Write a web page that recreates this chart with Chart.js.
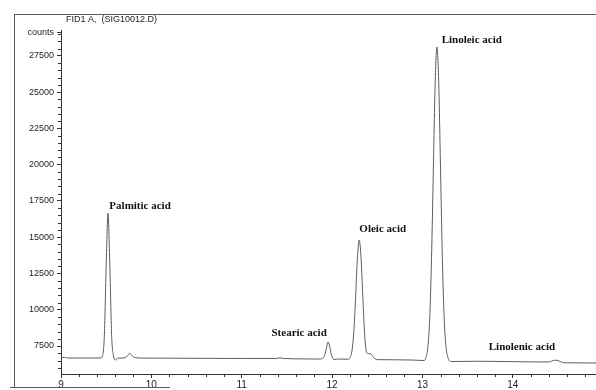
<!DOCTYPE html>
<html>
<head>
<meta charset="utf-8">
<script src="https://cdn.jsdelivr.net/npm/chart.js@4.4.1/dist/chart.umd.min.js"></script>
<style>
  html, body { margin: 0; padding: 0; background: #fff; }
  #wrap { width: 596px; height: 390px; position: relative; }
</style>
</head>
<body>
<div id="wrap"><canvas id="chrom" width="596" height="390"></canvas></div>
<script>
// retention time (min) and detector counts
const times = [
  9.00, 9.04, 9.08, 9.20, 9.35, 9.44, 9.46, 9.48, 9.50, 9.52, 9.54, 9.56, 9.58, 9.60, 9.63,
  9.70, 9.74, 9.76, 9.78, 9.82, 9.90, 10.2, 10.6, 11.0, 11.38, 11.42, 11.46, 11.7, 11.86,
  11.90, 11.92, 11.94, 11.955, 11.97, 11.99, 12.01, 12.03, 12.06, 12.18,
  12.20, 12.22, 12.24, 12.26, 12.28, 12.30, 12.32, 12.34, 12.36, 12.38, 12.40, 12.43, 12.46, 12.50,
  12.70, 12.90, 13.02, 13.04, 13.06, 13.08, 13.10, 13.12, 13.14, 13.16, 13.18, 13.20, 13.22, 13.24,
  13.26, 13.28, 13.30, 13.32, 13.60, 14.00, 14.30, 14.40, 14.46, 14.50, 14.55, 14.60, 14.92
];
const counts = [
  6680, 6720, 6670, 6670, 6670, 6680, 6840, 8270, 13070, 16670, 13070, 8270, 6840, 6540, 6660,
  6680, 6850, 7000, 6850, 6700, 6670, 6660, 6650, 6640, 6640, 6690, 6640, 6610, 6600,
  6680, 6900, 7450, 7780, 7550, 6950, 6620, 6570, 6600, 6590,
  6730, 7190, 8480, 10860, 13580, 14810, 13580, 10860, 8300, 7100, 6980, 6950, 6700, 6560,
  6550, 6530, 6500, 6740, 7450, 9420, 13530, 19620, 25570, 28120, 25570, 19620, 13530, 9420,
  7450, 6740, 6470, 6430, 6450, 6420, 6400, 6400, 6520, 6500, 6360, 6340, 6330
];

const yTicks = [7500, 10000, 12500, 15000, 17500, 20000, 22500, 25000, 27500];
const xTicks = [9, 10, 11, 12, 13, 14];
const countsTick = 29090;   // where the "counts" unit label sits on the axis

// peak names with anchor (time, counts) for the text
const peakNames = ['Palmitic acid', 'Stearic acid', 'Oleic acid', 'Linoleic acid', 'Linolenic acid'];
const peakLabelAt = [[9.875, 17150], [11.635, 8400], [12.56, 15570], [13.545, 28600], [14.10, 7430]];

const points = times.map((t, i) => ({ x: t, y: counts[i] }));

const decor = {
  id: 'decor',
  afterDraw(chart) {
    const ctx = chart.ctx;
    const xs = chart.scales.x, ys = chart.scales.y;
    const area = chart.chartArea;
    ctx.save();

    // scanned page frame
    ctx.strokeStyle = '#5a5a5a';
    ctx.lineWidth = 1;
    ctx.beginPath();
    ctx.moveTo(14, 14.5); ctx.lineTo(596, 14.5);
    ctx.moveTo(14.5, 14); ctx.lineTo(14.5, 388);
    ctx.moveTo(10, 387.5); ctx.lineTo(170, 387.5);
    ctx.stroke();

    // title
    ctx.fillStyle = '#222';
    ctx.font = '9px "Liberation Sans", Arial, sans-serif';
    ctx.textAlign = 'left';
    ctx.textBaseline = 'middle';
    ctx.fillText('FID1 A,  (SIG10012.D)', 66, 20);

    // minor ticks
    ctx.strokeStyle = '#333';
    ctx.beginPath();
    for (let v = 6000; v <= 29000; v += 500) {
      if (v % 2500 === 0) continue;
      const py = Math.round(ys.getPixelForValue(v)) + 0.5;
      ctx.moveTo(area.left - 3, py); ctx.lineTo(area.left, py);
    }
    for (let k = 45; k <= 74; k++) {
      if (k % 5 === 0) continue;
      const px = Math.round(xs.getPixelForValue(k / 5)) + 0.5;
      ctx.moveTo(px, area.bottom); ctx.lineTo(px, area.bottom + 3);
    }
    ctx.stroke();

    // peak labels
    ctx.fillStyle = '#111';
    ctx.font = 'bold 11px "Liberation Serif", "Times New Roman", serif';
    ctx.textAlign = 'center';
    peakNames.forEach((name, i) => {
      const [t, c] = peakLabelAt[i];
      ctx.fillText(name, xs.getPixelForValue(t), ys.getPixelForValue(c));
    });
    ctx.restore();
  }
};

new Chart(document.getElementById('chrom'), {
  type: 'line',
  data: {
    datasets: [{
      data: points,
      borderColor: '#5c5c5c',
      borderWidth: 1,
      pointRadius: 0,
      cubicInterpolationMode: 'monotone',
      fill: false
    }]
  },
  options: {
    responsive: false,
    animation: false,
    layout: { padding: { top: 30, left: 0, right: 0, bottom: 0 } },
    plugins: { legend: { display: false }, tooltip: { enabled: false } },
    scales: {
      x: {
        type: 'linear',
        min: 9,
        max: 14.92,
        afterFit: s => { s.height = 16; },
        afterBuildTicks: s => { s.ticks = xTicks.map(v => ({ value: v })); },
        border: { display: true, color: '#333', width: 1 },
        grid: { display: true, drawOnChartArea: false, drawTicks: true, tickLength: 4, color: '#333' },
        ticks: {
          padding: 1,
          color: '#222',
          maxRotation: 0,
          font: { family: '"Liberation Sans", Arial, sans-serif', size: 10 },
          callback: v => String(v)
        }
      },
      y: {
        type: 'linear',
        min: 5570,
        max: 29290,
        afterFit: s => { s.width = 61; },
        afterBuildTicks: s => { s.ticks = yTicks.concat([countsTick]).map(v => ({ value: v })); },
        border: { display: true, color: '#333', width: 1 },
        grid: { display: true, drawOnChartArea: false, drawTicks: true, tickLength: 4, color: '#333' },
        ticks: {
          padding: 3,
          color: '#222',
          font: { family: '"Liberation Sans", Arial, sans-serif', size: 9 },
          callback: v => (v === countsTick ? 'counts' : String(v))
        }
      }
    }
  },
  plugins: [decor]
});
</script>
</body>
</html>
